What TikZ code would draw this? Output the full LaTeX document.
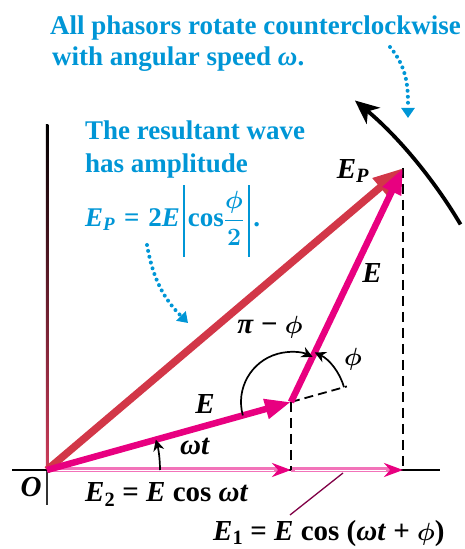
\documentclass[tikz,border=0pt]{standalone}
\usepackage{fontspec}
\setmainfont{Liberation Serif}
\usepackage{amsmath}
\usetikzlibrary{arrows.meta,calc}
\definecolor{mag}{RGB}{232,0,128}
\definecolor{resred}{RGB}{210,55,72}
\definecolor{blu}{RGB}{0,150,214}
\definecolor{axmid}{RGB}{50,90,120}
\definecolor{axbot}{RGB}{205,60,90}
\begin{document}
\begin{tikzpicture}[x=1pt,y=1pt,
  phasor/.style={line width=6.5pt,color=mag,-{Triangle[length=26pt,width=19pt]}},
  resultant/.style={line width=7.5pt,color=resred,-{Triangle[length=30pt,width=22pt]}},
  projline/.style={line width=5pt,color=mag!55,-{Stealth[length=19pt,width=14pt,color=mag,fill=mag!35]}},
  projstripe/.style={white,line width=1pt},
  dashline/.style={black,line width=2.6pt,dash pattern=on 10pt off 6pt},
  extline/.style={black,line width=1.8pt,dash pattern=on 9pt off 5pt},
  anglearc/.style={black,line width=1.7pt,-{Stealth[length=11pt,width=11pt,inset=3.5pt]}},
  rotarc/.style={black,line width=3.8pt,-{Stealth[length=24pt,width=21pt,inset=7pt]}},
  bluedots/.style={blu,line width=4pt,line cap=round,dash pattern=on 0pt off 6pt,-{Triangle[length=10pt,width=13pt]}},
  bluetxt/.style={blu,font=\bfseries\boldmath\fontsize{27}{31}\selectfont,anchor=base west,inner sep=0pt},
  lbl/.style={font=\bfseries\boldmath\fontsize{29}{32}\selectfont,inner sep=0pt}
]
\useasboundingbox (0,0) rectangle (464,549);
% key points
\coordinate (O) at (47,79);
\coordinate (A) at (291,147);
\coordinate (P) at (403,381);
\coordinate (Ax) at (291,79);
\coordinate (Px) at (403,79);
\coordinate (axL) at (12,79);
\coordinate (axR) at (440,79);
% axes
\shade[top color=black,middle color=axmid,bottom color=axbot] (45.8,79) rectangle (48.4,424);
\fill[black!80] (45.8,44) rectangle (48.4,79);
\draw[line width=1.6pt] (axL) -- (axR);
% projections on the axis
\draw[projline] (O) -- (Ax);
\draw[projstripe] ($(O)+(6,-0.6)$) -- ($(Ax)+(-17,-0.6)$);
\draw[projline] (Ax) -- (Px);
\draw[projstripe] ($(Ax)+(4,-0.6)$) -- ($(Px)+(-17,-0.6)$);
% dashed projections
\draw[dashline] (A) -- (Ax);
\draw[dashline] (P) -- (Px);
% extension of E2
\coordinate (Aext) at ($(A)+(15.57:58)$);
\draw[extline] (A) -- (Aext);
% phasors
\draw[resultant] (O) -- (P);
\draw[phasor] (O) -- (A);
\draw[phasor] (A) -- (P);
% angle arcs
\draw[anglearc] ($(A)+(195.57:50)$) arc[start angle=195.57,end angle=64.42,radius=50];
\draw[anglearc] ($(A)+(15.57:55)$) arc[start angle=15.57,end angle=64.42,radius=55];
\draw[anglearc] ($(O)+(0:113)$) arc[start angle=0,end angle=15.57,radius=113];
% rotation arrow
\draw[rotarc] ($(O)+(30.7:481)$) arc[start angle=30.7,end angle=50.2,radius=481];
% blue annotations
\node[bluetxt] (t1) at (50,514) {All phasors rotate counterclockwise};
\node[bluetxt] (t2) at (52,483) {with angular speed \textit{ω}.};
\node[bluetxt] (t3) at (85,409) {The resultant wave};
\node[bluetxt] (t4) at (85,376) {has amplitude};
\node[bluetxt] (t5) at (85,322) {\textit{E}\textsubscript{\textit{P}}\hspace{2pt} = \hspace{2pt}2\textit{E}\hspace{3pt}\vrule width 2.2pt height 42pt depth 30pt\hspace{3pt}cos$\dfrac{\phi}{2}$\hspace{4pt}\vrule width 2.2pt height 42pt depth 30pt\hspace{3pt}.};
\coordinate (b1s) at (390,502);
\coordinate (b1e) at (408,431);
\draw[bluedots] (b1s) to[out=-50,in=90] (b1e);
\coordinate (b2s) at (147,304);
\coordinate (b2e) at (188,226);
\draw[bluedots] (b2s) to[out=-80,in=135] (b2e);
% labels
\node[lbl] (lE2) at (205,145) {\textit{E}};
\node[lbl,anchor=base west] (lwt) at (180,94) {\textit{ωt}};
\node[lbl] (lpp) at (270,222) {\textit{π} − $\phi$};
\node[lbl] (lphi) at (353,190) {$\phi$};
\node[lbl] (lE1) at (372,276) {\textit{E}};
\node[lbl] (lEP) at (353,378) {\textit{E}\textsubscript{\textit{P}}};
\node[lbl] (lO) at (31,62) {\textit{O}};
\node[lbl,anchor=base west] (eq2) at (85,47) {\textit{E}\textsubscript{2} = \textit{E} cos \textit{ωt}};
\node[lbl,anchor=base west] (eq1) at (213,9) {\textit{E}\textsubscript{1} = \textit{E} cos (\textit{ωt} + $\phi$)};
\coordinate (L1) at (343,76);
\coordinate (L2) at (290,34);
\draw[line width=1.3pt,mag!55!black] (L1) -- (L2);
\end{tikzpicture}
\end{document}
